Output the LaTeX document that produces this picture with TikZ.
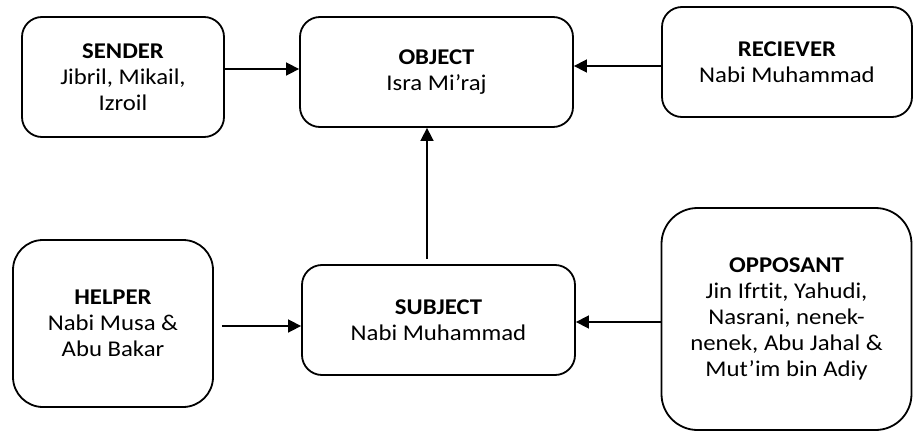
\documentclass[tikz,border=0pt]{standalone}
\usepackage{fontspec}
\setmainfont{Carlito}[FakeStretch=1.1,Ligatures=NoCommon]
\usetikzlibrary{arrows.meta}
\begin{document}
\begin{tikzpicture}[x=1pt,y=-1pt,
  box/.style={draw=black, line width=1.8pt, align=center, inner sep=0pt,
    font=\fontsize{22.5}{25.8}\selectfont},
  arr/.style={line width=1.6pt, -{Triangle[length=13pt,width=13pt]}}]
\useasboundingbox (0,0) rectangle (914,434);
\node[box, rounded corners=20pt, minimum width=202pt, minimum height=120pt] (sender) at (123,77)
  {\textbf{SENDER}\\Jibril, Mikail,\\Izroil};
\node[box, rounded corners=20pt, minimum width=273pt, minimum height=110pt] (object) at (436.5,72)
  {\textbf{OBJECT}\\Isra Mi’raj};
\node[box, rounded corners=20pt, minimum width=250pt, minimum height=110pt] (receiver) at (787,62)
  {\textbf{RECIEVER}\\Nabi Muhammad};
\node[box, rounded corners=30pt, minimum width=200pt, minimum height=167pt] (helper) at (113,323.5)
  {\textbf{HELPER}\\Nabi Musa \&\\Abu Bakar};
\node[box, rounded corners=20pt, minimum width=273pt, minimum height=110pt] (subject) at (438.5,320)
  {\textbf{SUBJECT}\\Nabi Muhammad};
\node[box, rounded corners=36pt, minimum width=250pt, minimum height=222pt] (opposant) at (786.5,319)
  {\textbf{OPPOSANT}\\Jin Ifrtit, Yahudi,\\Nasrani, nenek-\\nenek, Abu Jahal \&\\Mut’im bin Adiy};
\draw[arr] (sender.east |- 0,69) -- (object.west |- 0,69);
\draw[arr] (receiver.west |- 0,66) -- (object.east |- 0,66);
\draw[arr] ([yshift=5pt]subject.north -| 427,0) -- (object.south -| 427,0);
\draw[arr] ([xshift=8pt]helper.east |- 0,326) -- (subject.west |- 0,326);
\draw[arr] (opposant.west |- 0,322) -- (subject.east |- 0,322);
\end{tikzpicture}
\end{document}
